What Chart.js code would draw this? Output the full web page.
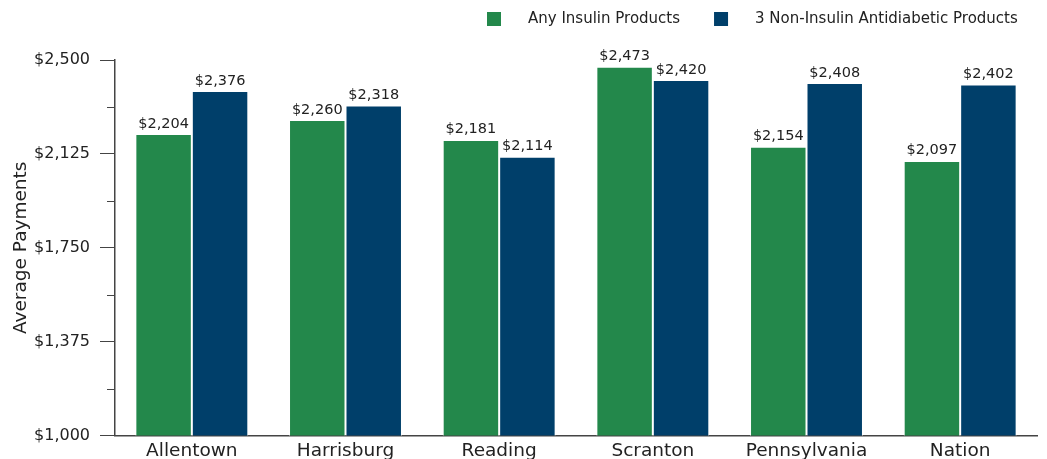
<!DOCTYPE html>
<html>
<head>
<meta charset="utf-8">
<script src="https://cdn.jsdelivr.net/npm/chart.js@4"></script>
<style>
  html, body { margin: 0; padding: 0; background: #fff; }
  #wrap { width: 1047px; height: 459px; }
</style>
</head>
<body>
<div id="wrap"><canvas id="myChart"></canvas></div>
<script>
const regions = ['Allentown', 'Harrisburg', 'Reading', 'Scranton', 'Pennsylvania', 'Nation'];
const insulinPayments = [2204, 2260, 2181, 2473, 2154, 2097];
const nonInsulinPayments = [2376, 2318, 2114, 2420, 2408, 2402];
const seriesNames = ['Any Insulin Products', '3 Non-Insulin Antidiabetic Products'];
const seriesColors = ['#23884b', '#003f6a'];
const yMajorTicks = [1000, 1375, 1750, 2125, 2500];
const yMinorTicks = [1187.5, 1562.5, 1937.5, 2312.5];

const FONT = "'DejaVu Sans', sans-serif";
const TEXT = '#222';
const AXIS = '#444';

const money = v => '$' + v.toLocaleString('en-US');

// value labels above each bar
const barLabels = {
    id: 'barLabels',
    afterDatasetsDraw(chart) {
        const ctx = chart.ctx;
        ctx.save();
        ctx.font = '14.5px ' + FONT;
        ctx.fillStyle = TEXT;
        ctx.textAlign = 'center';
        ctx.textBaseline = 'bottom';
        chart.data.datasets.forEach((ds, i) => {
            chart.getDatasetMeta(i).data.forEach((bar, j) => {
                ctx.fillText(money(ds.data[j]), bar.x, bar.y - 3);
            });
        });
        ctx.restore();
    }
};

// short ticks between the labelled ones
const minorTicks = {
    id: 'minorTicks',
    afterDraw(chart) {
        const y = chart.scales.y;
        const ctx = chart.ctx;
        ctx.save();
        ctx.strokeStyle = AXIS;
        ctx.lineWidth = 1;
        yMinorTicks.forEach(v => {
            const py = Math.round(y.getPixelForValue(v)) + 0.5;
            ctx.beginPath();
            ctx.moveTo(y.right - 8, py);
            ctx.lineTo(y.right, py);
            ctx.stroke();
        });
        ctx.restore();
    }
};

// legend in the top right corner
const topLegend = {
    id: 'topLegend',
    afterDraw(chart) {
        const ctx = chart.ctx;
        ctx.save();
        ctx.font = '15px ' + FONT;
        ctx.textBaseline = 'middle';
        ctx.textAlign = 'left';
        let x = 487;
        const cy = 19;
        seriesNames.forEach((name, i) => {
            ctx.fillStyle = seriesColors[i];
            ctx.fillRect(x, cy - 7, 14, 14);
            ctx.fillStyle = TEXT;
            ctx.fillText(name, x + 41, cy);
            x += 41 + ctx.measureText(name).width + 34;
        });
        ctx.restore();
    }
};

new Chart(document.getElementById('myChart'), {
    type: 'bar',
    data: {
        labels: regions,
        datasets: [
            { label: seriesNames[0], data: insulinPayments, backgroundColor: seriesColors[0] },
            { label: seriesNames[1], data: nonInsulinPayments, backgroundColor: seriesColors[1] }
        ]
    },
    options: {
        responsive: true,
        maintainAspectRatio: false,
        animation: false,
        layout: { padding: { top: 60, right: 10, left: 0, bottom: 0 } },
        datasets: {
            bar: {
                categoryPercentage: 0.735,
                barPercentage: 1,
                borderWidth: 1,
                borderColor: 'rgba(255,255,255,0.85)'
            }
        },
        plugins: {
            legend: { display: false },
            tooltip: { enabled: false }
        },
        scales: {
            x: {
                grid: { display: false, drawTicks: false },
                border: { color: AXIS, width: 1.5 },
                ticks: { color: TEXT, font: { family: FONT, size: 18.5 }, padding: 4 },
                afterFit(scale) { scale.height = 23.4; }
            },
            y: {
                min: 1000,
                max: 2500,
                afterBuildTicks(scale) { scale.ticks = yMajorTicks.map(v => ({ value: v })); },
                grid: { drawOnChartArea: false, drawTicks: true, tickLength: 15, tickColor: AXIS },
                border: { color: AXIS, width: 1.5 },
                ticks: {
                    color: TEXT,
                    font: { family: FONT, size: 16 },
                    padding: 10,
                    callback: v => money(v)
                },
                title: {
                    display: true,
                    text: 'Average Payments',
                    color: TEXT,
                    font: { family: FONT, size: 18.5 },
                    padding: { top: 10, bottom: 0 }
                },
                afterFit(scale) { scale.width = 115; }
            }
        }
    },
    plugins: [barLabels, minorTicks, topLegend]
});
</script>
</body>
</html>
